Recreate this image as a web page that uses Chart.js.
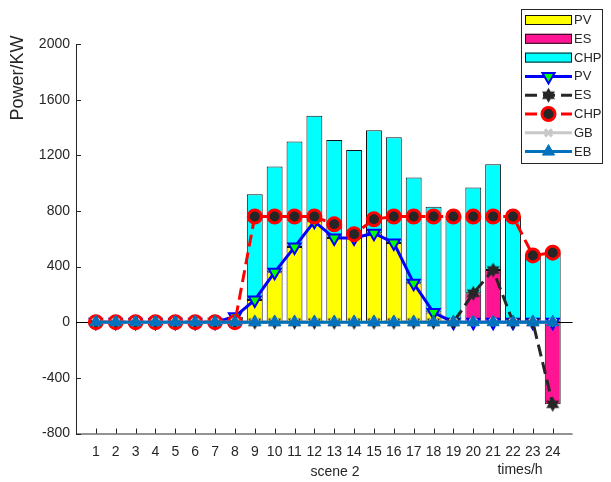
<!DOCTYPE html>
<html>
<head>
<meta charset="utf-8">
<script src="https://cdn.jsdelivr.net/npm/chart.js@4.4.1/dist/chart.umd.min.js"></script>
<style>html,body{margin:0;padding:0;background:#fff}canvas{display:block}</style>
</head>
<body>
<canvas id="c" width="611" height="482"></canvas>
<script>
// ---- data ----
const hours = [1,2,3,4,5,6,7,8,9,10,11,12,13,14,15,16,17,18,19,20,21,22,23,24];
const pvPower  = [0,0,0,0,0,0,0,40,160,360,540,725,605,605,640,570,280,70,0,0,0,0,0,0];
const esPower  = [0,0,0,0,0,0,0,0,0,0,0,0,0,0,0,0,0,0,0,208,375,0,0,-590];
const chpPower = [0,0,0,0,0,0,0,0,760,760,760,760,704,633,740,760,760,760,760,760,760,760,480,500];
const gbPower  = [0,0,0,0,0,0,0,0,0,0,0,0,0,0,0,0,0,0,0,0,0,0,0,0];
const ebPower  = [0,0,0,0,0,0,0,0,0,0,0,0,0,0,0,0,0,0,0,0,0,0,0,0];
const yTicks = [-800,-400,0,400,800,1200,1600,2000];
const yTitle = 'Power/KW';
const xTitle = 'times/h';
const sceneLabel = 'scene 2';

// ---- styling ----
const FONT = '"Liberation Sans", Arial, Helvetica, sans-serif';
const INK = '#262626';

function hexagram(r, color) {
  const s = Math.ceil(r * 2 + 2);
  const c = document.createElement('canvas');
  c.width = s; c.height = s;
  const g = c.getContext('2d');
  g.fillStyle = color;
  g.beginPath();
  for (let i = 0; i < 12; i++) {
    const a = -Math.PI / 2 + i * Math.PI / 6;
    const rr = (i % 2 === 0) ? r : r * 0.58;
    const px = s / 2 + Math.cos(a) * rr, py = s / 2 + Math.sin(a) * rr;
    if (i === 0) g.moveTo(px, py); else g.lineTo(px, py);
  }
  g.closePath();
  g.fill();
  return c;
}
const esStar = hexagram(7.5, INK);

const toBar = arr => hours.map((h, i) => ({x: h, y: arr[i] === 0 ? null : arr[i]}));
const toLine = arr => hours.map((h, i) => ({x: h, y: arr[i]}));

const barCommon = {type: 'bar', borderColor: '#111', borderWidth: 1, borderSkipped: false,
  stack: 'bars', barPercentage: 0.8, categoryPercentage: 1.0};
const lineCommon = {type: 'line', fill: false, tension: 0, borderWidth: 3, pointHoverRadius: 0};

const datasets = [
  Object.assign({}, barCommon, {label: 'PV', data: toBar(pvPower), backgroundColor: '#FFFF00', order: 10}),
  Object.assign({}, barCommon, {label: 'ES', data: toBar(esPower), backgroundColor: '#FF1493', order: 11}),
  Object.assign({}, barCommon, {label: 'CHP', data: toBar(chpPower), backgroundColor: '#00FFFF', order: 12}),
  Object.assign({}, lineCommon, {label: 'PV', data: toLine(pvPower), stack: 'l_pv', order: 5,
    borderColor: '#0000FF', pointStyle: 'triangle', pointRotation: 180, pointRadius: 7,
    pointBackgroundColor: '#00FF00', pointBorderColor: '#0000FF', pointBorderWidth: 2}),
  Object.assign({}, lineCommon, {label: 'ES', data: toLine(esPower), stack: 'l_es', order: 4,
    borderColor: INK, borderDash: [12, 6], pointStyle: esStar, pointRadius: 7,
    pointBackgroundColor: INK, pointBorderColor: INK, pointBorderWidth: 0}),
  Object.assign({}, lineCommon, {label: 'CHP', data: toLine(chpPower), stack: 'l_chp', order: 3,
    borderColor: '#FF0000', borderDash: [12, 6], pointStyle: 'circle', pointRadius: 6.5,
    pointBackgroundColor: INK, pointBorderColor: '#FF0000', pointBorderWidth: 3}),
  Object.assign({}, lineCommon, {label: 'GB', data: toLine(gbPower), stack: 'l_gb', order: 2,
    borderColor: '#C8C8C8', pointStyle: 'crossRot', pointRadius: 5,
    pointBackgroundColor: '#C8C8C8', pointBorderColor: '#C8C8C8', pointBorderWidth: 3}),
  Object.assign({}, lineCommon, {label: 'EB', data: toLine(ebPower), stack: 'l_eb', order: 1,
    borderColor: '#0072BD', pointStyle: 'triangle', pointRadius: 7,
    pointBackgroundColor: '#0072BD', pointBorderColor: '#0072BD', pointBorderWidth: 1})
];

// legend rows: dataset indices in legend order
const legendRows = [0, 1, 2, 3, 4, 5, 6, 7];

const decor = {
  id: 'decor',
  beforeDatasetsDraw(chart) {
    const ctx = chart.ctx, ca = chart.chartArea;
    const xs = chart.scales.x, ys = chart.scales.y;
    ctx.save();
    ctx.strokeStyle = INK;
    ctx.lineWidth = 1;
    ctx.beginPath();
    ctx.moveTo(ca.left + 0.5, ca.top);
    ctx.lineTo(ca.left + 0.5, ca.bottom + 0.5);
    ctx.lineTo(ca.right, ca.bottom + 0.5);
    ctx.stroke();
    ctx.beginPath();
    yTicks.forEach(v => {
      const y = Math.round(ys.getPixelForValue(v)) + 0.5;
      ctx.moveTo(ca.left, y); ctx.lineTo(ca.left + 5, y);
    });
    hours.forEach(h => {
      const x = Math.round(xs.getPixelForValue(h)) + 0.5;
      ctx.moveTo(x, ca.bottom); ctx.lineTo(x, ca.bottom - 5);
    });
    ctx.stroke();
    const y0 = Math.round(ys.getPixelForValue(0)) + 0.5;
    ctx.strokeStyle = '#000';
    ctx.beginPath();
    ctx.moveTo(ca.left, y0); ctx.lineTo(ca.right, y0);
    ctx.stroke();
    ctx.restore();
  },
  afterDraw(chart) {
    const ctx = chart.ctx;
    ctx.save();
    ctx.fillStyle = INK;
    ctx.textAlign = 'center';
    ctx.textBaseline = 'middle';
    ctx.font = '14px ' + FONT;
    ctx.fillText(sceneLabel, 335, 472);
    ctx.fillText(xTitle, 520, 470);
    ctx.save();
    ctx.translate(18, 78);
    ctx.rotate(-Math.PI / 2);
    ctx.font = '18px ' + FONT;
    ctx.fillText(yTitle, 0, 0);
    ctx.restore();

    const bx = 521, by = 9, bw = 81, bh = 154;
    ctx.fillStyle = '#fff';
    ctx.fillRect(bx, by, bw, bh);
    ctx.strokeStyle = INK;
    ctx.lineWidth = 1;
    ctx.strokeRect(bx + 0.5, by + 0.5, bw, bh);
    const x1 = 525, x2 = 572, xm = 548.5;
    legendRows.forEach((di, i) => {
      const ds = chart.data.datasets[di];
      const y = 20 + i * 18.8;
      if (ds.type === 'bar') {
        ctx.fillStyle = ds.backgroundColor;
        ctx.fillRect(x1, y - 5, x2 - x1, 10);
        ctx.strokeStyle = '#111';
        ctx.lineWidth = 1;
        ctx.strokeRect(x1 + 0.5, y - 4.5, x2 - x1 - 1, 9);
      } else {
        ctx.strokeStyle = ds.borderColor;
        ctx.lineWidth = ds.borderWidth;
        ctx.setLineDash(ds.borderDash || []);
        ctx.beginPath();
        ctx.moveTo(x1, y); ctx.lineTo(x2, y);
        ctx.stroke();
        ctx.setLineDash([]);
        ctx.fillStyle = ds.pointBackgroundColor;
        ctx.strokeStyle = ds.pointBorderColor;
        ctx.lineWidth = ds.pointBorderWidth;
        Chart.helpers.drawPoint(ctx, {
          pointStyle: ds.pointStyle, rotation: ds.pointRotation || 0,
          radius: ds.pointRadius, borderWidth: ds.pointBorderWidth
        }, xm, y);
      }
      ctx.fillStyle = INK;
      ctx.textAlign = 'left';
      ctx.textBaseline = 'middle';
      ctx.font = '13px ' + FONT;
      ctx.fillText(ds.label, 574, y + 0.5);
    });
    ctx.restore();
  }
};

new Chart(document.getElementById('c'), {
  type: 'bar',
  data: {datasets},
  options: {
    responsive: false,
    devicePixelRatio: 1,
    animation: false,
    events: [],
    layout: {padding: {left: 0, right: 38.4, top: 44, bottom: 0}},
    plugins: {legend: {display: false}, tooltip: {enabled: false}, title: {display: false}},
    scales: {
      x: {
        type: 'linear', min: 0, max: 25, offset: false,
        grid: {display: false, drawTicks: false, offset: false},
        border: {display: false},
        afterBuildTicks: s => { s.ticks = hours.map(v => ({value: v})); },
        afterFit: s => { s.height = 482 - 433.5; },
        ticks: {autoSkip: false, maxRotation: 0, padding: 10, color: INK,
          font: {family: FONT, size: 14}, callback: v => String(v)}
      },
      y: {
        type: 'linear', min: -800, max: 2000, stacked: true,
        grid: {display: false, drawTicks: false},
        border: {display: false},
        afterBuildTicks: s => { s.ticks = yTicks.map(v => ({value: v})); },
        afterFit: s => { s.width = 76; },
        ticks: {padding: 6, color: INK, font: {family: FONT, size: 14}, callback: v => String(v)}
      }
    }
  },
  plugins: [decor]
});
</script>
</body>
</html>
